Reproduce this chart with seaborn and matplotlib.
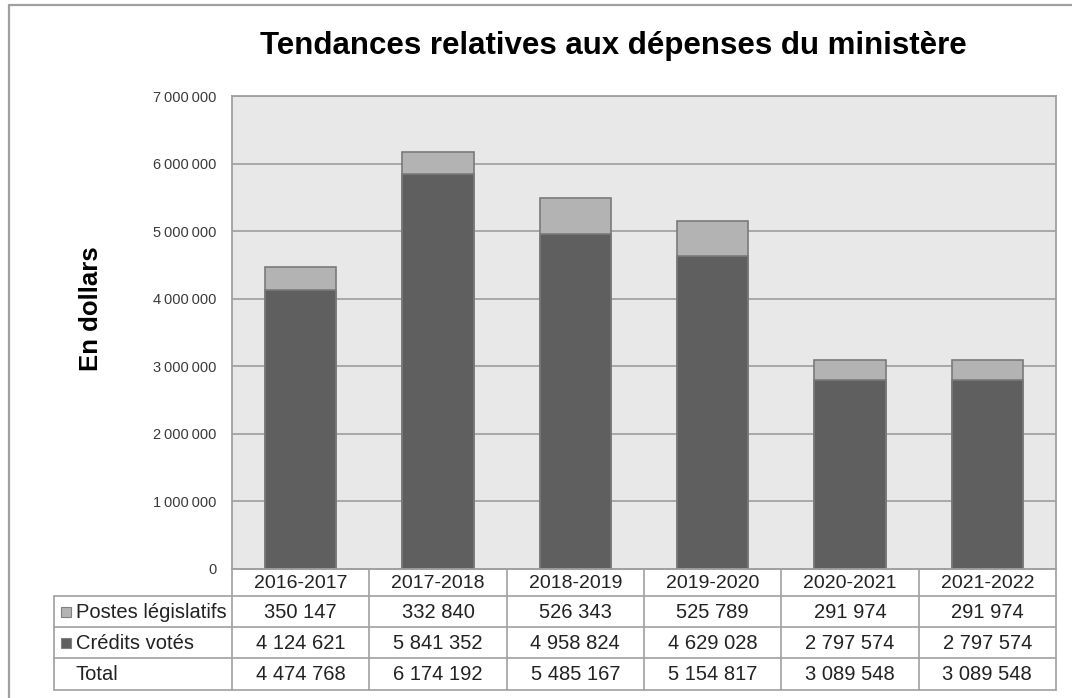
import matplotlib
matplotlib.use("Agg")
import matplotlib.pyplot as plt
from matplotlib.patches import Rectangle
from matplotlib.lines import Line2D
import seaborn as sns
import pandas as pd

# ---- data ----
years = ["2016-2017", "2017-2018", "2018-2019", "2019-2020", "2020-2021", "2021-2022"]
postes_legislatifs = [350147, 332840, 526343, 525789, 291974, 291974]
credits_votes = [4124621, 5841352, 4958824, 4629028, 2797574, 2797574]
totals = [4474768, 6174192, 5485167, 5154817, 3089548, 3089548]
row_labels = ["Postes législatifs", "Crédits votés", "Total"]
yticks = [0, 1000000, 2000000, 3000000, 4000000, 5000000, 6000000, 7000000]
title = "Tendances relatives aux dépenses du ministère"
ylabel = "En dollars"

LIGHT = "#b3b3b3"
DARK = "#5f5f5f"
BG = "#e8e8e8"
GRID = "#a3a3a3"
EDGE = "#7a7a7a"
TXT = "#222222"

sns.set_theme(style="white")
plt.rcParams["font.family"] = ["Liberation Sans", "DejaVu Sans"]

W, H = 1072, 698
fig = plt.figure(figsize=(W / 100, H / 100), dpi=100)
fig.patch.set_facecolor("white")

L, R, T, B = 232, 1056, 96, 569
ax = fig.add_axes([L / W, 1 - B / H, (R - L) / W, (B - T) / H])
ax.set_facecolor(BG)

df = pd.DataFrame({"year": years, "total": totals, "votes": credits_votes})
sns.barplot(data=df, x="year", y="total", color=LIGHT, saturation=1, width=0.52,
            edgecolor=EDGE, linewidth=1.2, ax=ax, zorder=3)
sns.barplot(data=df, x="year", y="votes", color=DARK, saturation=1, width=0.52,
            edgecolor=EDGE, linewidth=1.2, ax=ax, zorder=4)

ax.set_ylim(0, 7000000)
ax.set_xlim(-0.5, len(years) - 0.5)
ax.set_yticks(yticks)
ax.set_yticklabels([f"{v:,}".replace(",", "\u2009") for v in yticks],
                   fontsize=10.5, color="#3a3a3a")
ax.tick_params(axis="y", length=0, pad=11)
ax.set_xticks([])
ax.set_xlabel("")
ax.set_ylabel("")
ax.grid(axis="y", color=GRID, linewidth=1.3, zorder=1)
ax.set_axisbelow(True)
for s in ax.spines.values():
    s.set_visible(True)
    s.set_color("#a0a0a0")
    s.set_linewidth(1.3)

fig.text(613 / W, 1 - 46 / H, title, ha="center", va="center",
         fontsize=22.5, fontweight="bold", color="black")
fig.text(91 / W, 1 - 309 / H, ylabel, ha="center", va="center", rotation=90,
         fontsize=18.5, fontweight="bold", color="black")

# ---- overlay for data table ----
ov = fig.add_axes([0, 0, 1, 1])
ov.set_xlim(0, W)
ov.set_ylim(H, 0)
ov.axis("off")
ov.patch.set_visible(False)

# figure border (left & top)
ov.add_line(Line2D([9, 9], [5, H], color="#a0a0a0", lw=1.6))
ov.add_line(Line2D([9, W], [5, 5], color="#a0a0a0", lw=1.6))

LC = "#a0a0a0"
row_y = [569, 596, 627, 658, 690]
col_w = (R - L) / len(years)
TL = 54
# horizontal lines
ov.add_line(Line2D([L, R], [row_y[0], row_y[0]], color=LC, lw=1.2))
for y in row_y[1:]:
    ov.add_line(Line2D([TL, R], [y, y], color=LC, lw=1.2))
# vertical lines
ov.add_line(Line2D([TL, TL], [row_y[1], row_y[-1]], color=LC, lw=1.2))
for i in range(len(years) + 1):
    x = L + i * col_w
    ov.add_line(Line2D([x, x], [row_y[0], row_y[-1]], color=LC, lw=1.2))

fs = 14.5
for i, yr in enumerate(years):
    cx = L + (i + 0.5) * col_w
    ov.text(cx, (row_y[0] + row_y[1]) / 2 + 1, yr, ha="center", va="center",
            fontsize=14, color=TXT)
    rows_vals = [postes_legislatifs[i], credits_votes[i], totals[i]]
    for r, v in enumerate(rows_vals):
        cy = (row_y[r + 1] + row_y[r + 2]) / 2 + 1
        ov.text(cx, cy, f"{v:,}".replace(",", " "), ha="center", va="center",
                fontsize=fs, color=TXT)

sq_colors = [LIGHT, DARK, None]
for r, lab in enumerate(row_labels):
    cy = (row_y[r + 1] + row_y[r + 2]) / 2
    if sq_colors[r]:
        ov.add_patch(Rectangle((61, cy - 5), 10, 10, facecolor=sq_colors[r],
                               edgecolor="#808080", lw=0.8))
    ov.text(76, cy + 1, lab, ha="left", va="center", fontsize=fs, color=TXT)

fig.savefig("out.png", dpi=100)
